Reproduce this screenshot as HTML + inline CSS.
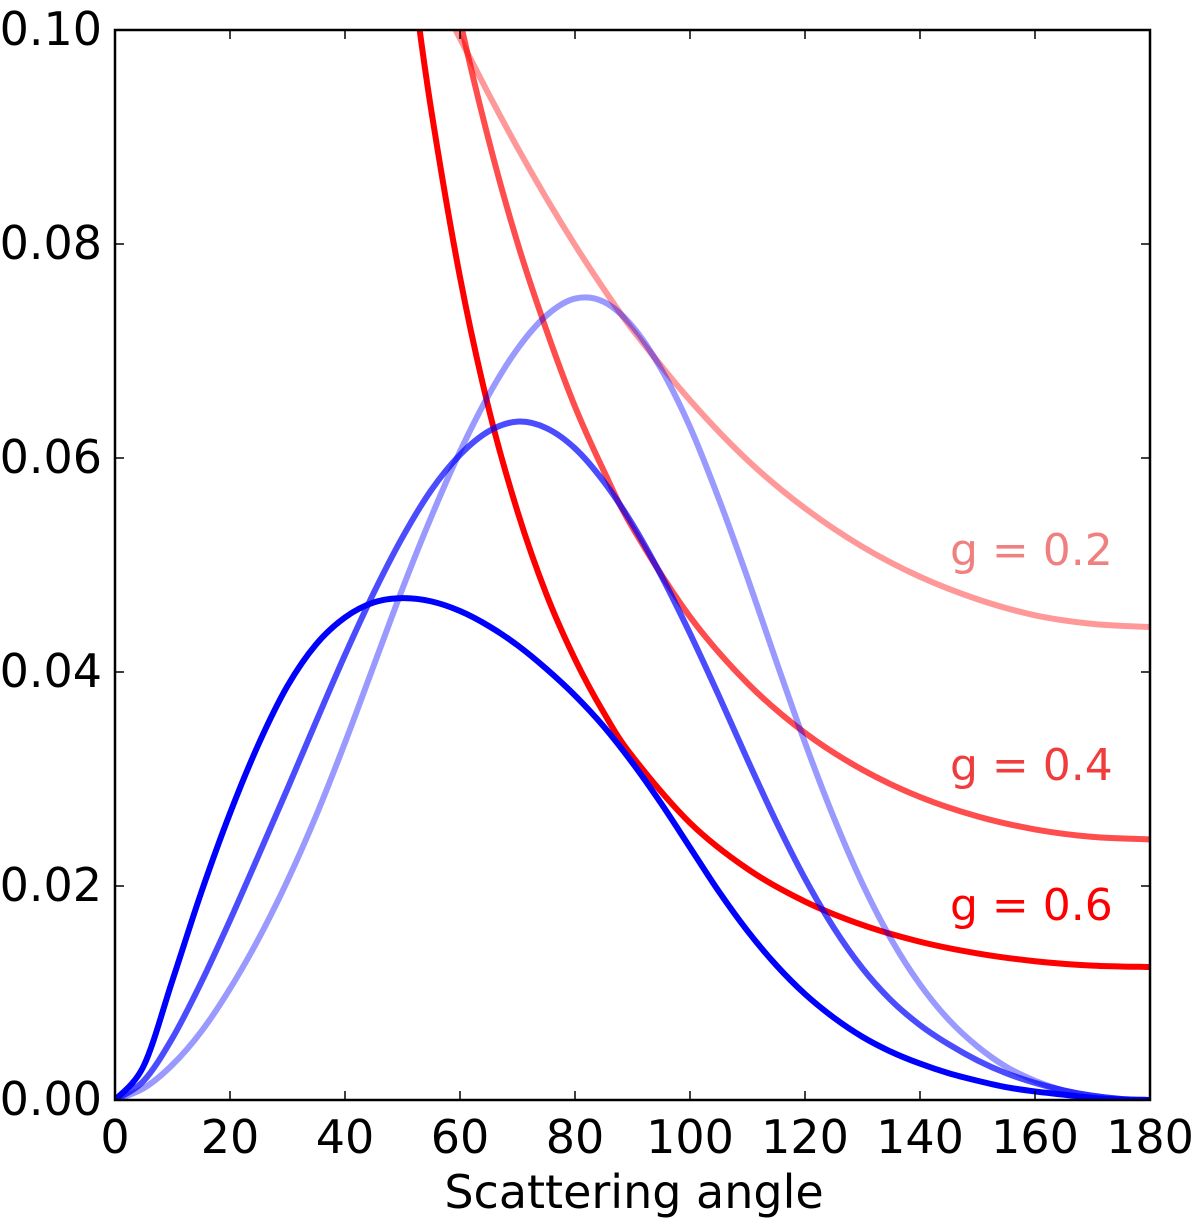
<!DOCTYPE html>
<html><head><meta charset="utf-8"><style>
body{margin:0;background:#fff}
svg{display:block;font-family:"DejaVu Sans","Liberation Sans",sans-serif}
</style></head><body>
<svg id="chart" width="1200" height="1222" viewBox="0 0 1200 1222" xmlns="http://www.w3.org/2000/svg">
<defs><clipPath id="clip"><rect x="115" y="30" width="1035" height="1070"/></clipPath></defs>
<g id="curves" clip-path="url(#clip)"></g>
<g id="axes"></g>
</svg>
<script>
const angles=[0,5,10,15,20,25,30,35,40,45,50,55,60,65,70,75,80,85,90,95,100,105,110,115,120,125,130,135,140,145,150,155,160,165,170,175,180];
const blueG06=[0,0.0032,0.0112,0.0194,0.0268,0.0333,0.0387,0.0426,0.0451,0.0465,0.0469,0.0466,0.0457,0.0443,0.0425,0.0403,0.0378,0.0349,0.0315,0.0277,0.0236,0.0195,0.0158,0.0126,0.0099,0.0077,0.0059,0.0045,0.0034,0.0025,0.0018,0.0012,0.0008,0.0005,0.0002,0.00005,0];
const blueG04=[0,0.0018,0.0058,0.0110,0.0168,0.0229,0.0291,0.0354,0.0416,0.0474,0.0526,0.0570,0.0603,0.0625,0.0634,0.0628,0.0609,0.0578,0.0538,0.0490,0.0436,0.0378,0.0318,0.0260,0.0207,0.0161,0.0123,0.0093,0.0070,0.0052,0.0037,0.0025,0.0016,0.0009,0.0004,0.0001,0];
const blueG02=[0,0.0011,0.0033,0.0064,0.0104,0.0151,0.0205,0.0266,0.0334,0.0406,0.0478,0.0545,0.0606,0.0659,0.0702,0.0733,0.0749,0.0746,0.0723,0.0683,0.0629,0.0562,0.0488,0.0410,0.0334,0.0264,0.0202,0.0150,0.0108,0.0075,0.0050,0.0031,0.0018,0.0009,0.0004,0.0001,0];
const redAngles=[50,52,55,60,65,70,75,80,85,90,100,110,120,130,140,150,160,170,180];
const redG06=[0.1128,0.1040,0.0925,0.0769,0.0646,0.0550,0.0473,0.0412,0.0362,0.0321,0.0259,0.0216,0.01855,0.01636,0.01479,0.0137,0.01297,0.01256,0.01243];
const redG04=[0.135,0.128,0.1139,0.1009,0.0897,0.0801,0.0720,0.0648,0.0588,0.0535,0.04516,0.03895,0.03431,0.03086,0.02832,0.02651,0.02529,0.02459,0.02436];
const redG02=[0.1103,0.1080,0.1045,0.0992,0.0940,0.0890,0.0843,0.0799,0.0758,0.0720,0.0654,0.0598,0.0553,0.0517,0.0489,0.0468,0.0453,0.0445,0.0442];
const xTicks=[0,20,40,60,80,100,120,140,160,180];
const yTicks=[0,0.02,0.04,0.06,0.08,0.10];
const labels=["g = 0.2","g = 0.4","g = 0.6"];

const X0=115,X1=1150,Y0=1100,Y1=30;
const xs=v=>X0+v/180*(X1-X0);
const ys=v=>Y0-v/0.1*(Y0-Y1);
const NS="http://www.w3.org/2000/svg";
function mk(t,a,p){const e=document.createElementNS(NS,t);for(const k in a)e.setAttribute(k,a[k]);p.appendChild(e);return e;}
function pathD(ax,vals){
  const P=ax.map((a,i)=>[xs(a),ys(vals[i])]);
  let d="M"+P[0][0]+","+P[0][1];
  for(let i=0;i<P.length-1;i++){
    const p0=P[Math.max(i-1,0)],p1=P[i],p2=P[i+1],p3=P[Math.min(i+2,P.length-1)];
    const c1=[p1[0]+(p2[0]-p0[0])/6,p1[1]+(p2[1]-p0[1])/6];
    const c2=[p2[0]-(p3[0]-p1[0])/6,p2[1]-(p3[1]-p1[1])/6];
    d+=" C"+c1+" "+c2+" "+p2;
  }
  return d;
}
const cg=document.getElementById("curves");
const series=[
 [redAngles,redG02,"#ff0000",0.4,"red-curve-g02"],
 [redAngles,redG04,"#ff0000",0.7,"red-curve-g04"],
 [redAngles,redG06,"#ff0000",1,"red-curve-g06"],
 [angles,blueG02,"#0000ff",0.4,"blue-curve-g02"],
 [angles,blueG04,"#0000ff",0.7,"blue-curve-g04"],
 [angles,blueG06,"#0000ff",1,"blue-curve-g06"]];
series.forEach(s=>{
  const p=mk("path",{d:pathD(s[0],s[1]),fill:"none",stroke:s[2],"stroke-opacity":s[3],"stroke-width":6,"stroke-linejoin":"round"},cg);
  
  
});
const ag=document.getElementById("axes");
const frame=mk("rect",{x:X0,y:Y1,width:X1-X0,height:Y0-Y1,fill:"none",stroke:"#000","stroke-width":2.5},ag);


xTicks.forEach(t=>{
  const x=xs(t);
  mk("line",{x1:x,y1:Y0,x2:x,y2:Y0-9,stroke:"#000","stroke-width":1.5},ag);
  mk("line",{x1:x,y1:Y1,x2:x,y2:Y1+9,stroke:"#000","stroke-width":1.5},ag);
  const tx=mk("text",{x:x,y:1153,"text-anchor":"middle","font-size":46},ag);
  tx.textContent=t;
  
  
});
yTicks.forEach(t=>{
  const y=ys(t);
  mk("line",{x1:X0,y1:y,x2:X0+9,y2:y,stroke:"#000","stroke-width":1.5},ag);
  mk("line",{x1:X1,y1:y,x2:X1-9,y2:y,stroke:"#000","stroke-width":1.5},ag);
  const tx=mk("text",{x:102,y:y+15,"text-anchor":"end","font-size":46},ag);
  tx.textContent=t.toFixed(2);
  
  
});
const xt=mk("text",{x:634,y:1208,"text-anchor":"middle","font-size":46},ag);
xt.textContent="Scattering angle";


const lab=[[565,"#f08080"],[780,"#f03c3c"],[920,"#ff0000"]];
labels.forEach((l,i)=>{
  const tx=mk("text",{x:950,y:lab[i][0],"font-size":44,fill:lab[i][1]},ag);
  tx.textContent=l;
  
  
});
</script>
</body></html>
